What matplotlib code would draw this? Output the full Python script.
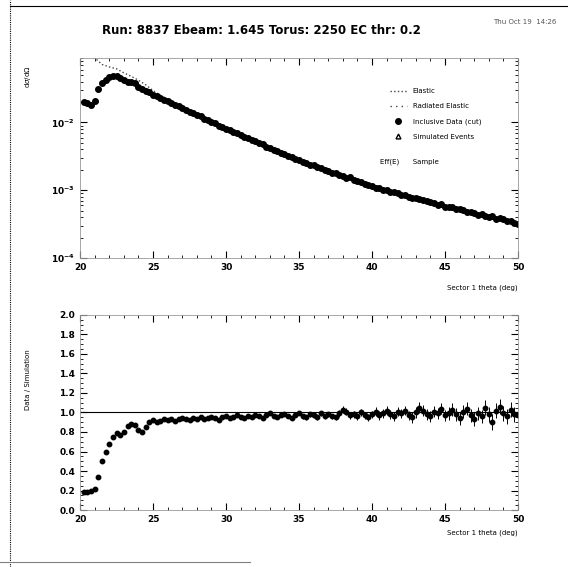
import numpy as np
import matplotlib
matplotlib.use("Agg")
import matplotlib.pyplot as plt
from matplotlib.lines import Line2D
from matplotlib.ticker import MultipleLocator, LogLocator, NullFormatter

# --- data ---
# inclusive data, 0.25 deg bins, units of 1e-3
theta_data = np.arange(20.25, 50.01, 0.25)
data_vals = [
    20.0, 19.2, 18.0, 20.5, 31.0, 38.0, 43.0, 47.0, 49.0, 48.0,
    45.0, 42.0, 40.0, 39.5, 38.0, 33.5, 31.5, 29.5, 27.8, 25.7,
    24.5, 22.9, 21.4, 20.6, 19.3, 18.0, 17.3, 16.1, 15.4, 14.4,
    13.8, 12.8, 12.3, 11.4, 10.9, 10.1, 9.8, 9.0, 8.7, 8.1,
    7.8, 7.2, 6.95, 6.5, 6.1, 5.85, 5.45, 5.25, 4.9, 4.75,
    4.4, 4.25, 3.95, 3.82, 3.55, 3.42, 3.18, 3.08, 2.86, 2.77,
    2.6, 2.55, 2.38, 2.33, 2.18, 2.14, 1.99, 1.95, 1.82, 1.79,
    1.68, 1.64, 1.53, 1.57, 1.40, 1.38, 1.32, 1.23, 1.20, 1.15,
    1.09, 1.08, 1.02, 1.01, 0.95, 0.94, 0.91, 0.86, 0.86, 0.80,
    0.78, 0.78, 0.73, 0.71, 0.70, 0.66, 0.65, 0.61, 0.62, 0.57,
    0.57, 0.56, 0.52, 0.52, 0.51, 0.47, 0.48, 0.455, 0.43, 0.44,
    0.42, 0.40, 0.41, 0.37, 0.39, 0.375, 0.35, 0.355, 0.325, 0.32,
]

# simulation, 0.5 deg bins, units of 1e-3
theta_sim = np.arange(20.5, 50.01, 0.5)
sim_vals = [
    105, 90, 72, 66, 62, 54, 48, 42, 36, 29.5,
    25.2, 22.2, 19.7, 17.4, 15.5, 13.7, 12.2, 10.8, 9.6, 8.55,
    7.65, 6.8, 6.05, 5.4, 4.85, 4.33, 3.9, 3.5, 3.14, 2.83,
    2.58, 2.36, 2.15, 1.96, 1.79, 1.64, 1.50, 1.38, 1.27, 1.16,
    1.08, 1.01, 0.945, 0.88, 0.82, 0.77, 0.72, 0.67, 0.63, 0.59,
    0.555, 0.522, 0.492, 0.463, 0.436, 0.411, 0.388, 0.366, 0.345, 0.325,
]

# data / simulation ratio, 0.25 deg bins
ratio_vals = [
    0.18, 0.18, 0.19, 0.22, 0.34, 0.50, 0.60, 0.68, 0.75, 0.79,
    0.77, 0.80, 0.86, 0.88, 0.87, 0.82, 0.80, 0.85, 0.90, 0.92,
    0.90, 0.91, 0.93, 0.92, 0.93, 0.91, 0.93, 0.94, 0.93, 0.92,
    0.94, 0.93, 0.95, 0.93, 0.94, 0.95, 0.94, 0.92, 0.95, 0.96,
    0.94, 0.95, 0.97, 0.95, 0.94, 0.96, 0.95, 0.97, 0.96, 0.94,
    0.97, 0.99, 0.96, 0.95, 0.97, 0.98, 0.96, 0.94, 0.97, 0.99,
    0.96, 0.95, 0.98, 0.97, 0.95, 0.99, 0.96, 0.98, 0.96, 0.95,
    0.99, 1.03, 1.01, 0.97, 0.98, 0.96, 1.00, 0.97, 0.95, 0.98,
    1.01, 0.97, 0.99, 1.02, 0.98, 0.96, 1.01, 0.99, 1.02, 0.97,
    0.95, 1.00, 1.05, 1.02, 0.98, 0.96, 1.01, 0.99, 1.04, 0.97,
    0.99, 1.03, 0.98, 0.94, 1.01, 1.04, 0.97, 0.93, 0.99, 0.96,
    1.05, 0.98, 0.90, 1.02, 1.06, 0.99, 0.96, 1.03, 0.98, 0.97,
]
# ratio error per 2.5 deg block (20-22.5, 22.5-25, ...)
ratio_err_block = [0.01, 0.012, 0.012, 0.014, 0.016, 0.02, 0.028, 0.035, 0.045, 0.06, 0.07, 0.08]

title = "Run: 8837 Ebeam: 1.645 Torus: 2250 EC thr: 0.2"
xlabel = "Sector 1 theta (deg)"

data = np.array(data_vals) * 1e-3
sim = np.array(sim_vals) * 1e-3
ratio = np.array(ratio_vals)
ratio_err = np.repeat(ratio_err_block, 10)

fig = plt.figure(figsize=(5.68, 5.67), dpi=100)
fig.patch.set_facecolor("white")

# page frame (scanned printout edges)
fig.add_artist(Line2D([0.018, 0.018], [0.0, 1.0], color="black", lw=0.8, ls=(0, (1, 1))))
fig.add_artist(Line2D([0.018, 1.0], [0.989, 0.989], color="black", lw=0.8))
fig.add_artist(Line2D([0.0, 0.44], [0.009, 0.009], color="gray", lw=0.8))

fig.text(0.46, 0.947, title, ha="center", va="center", fontsize=8.5, fontweight="bold")
fig.text(0.98, 0.962, "Thu Oct 19  14:26", ha="right", va="center", fontsize=5, color="#555555")


def style_axes(ax):
    for s in ax.spines.values():
        s.set_color("#999999")
        s.set_linewidth(0.6)
    ax.tick_params(which="both", direction="in", top=True, right=True, colors="black",
                   labelsize=6.5)
    ax.tick_params(which="major", length=5, width=0.8)
    ax.tick_params(which="minor", length=2.5, width=0.6)
    for lab in ax.get_xticklabels() + ax.get_yticklabels():
        lab.set_fontweight("bold")
    ax.xaxis.set_major_locator(MultipleLocator(5))
    ax.xaxis.set_minor_locator(MultipleLocator(1))
    ax.set_xlim(20, 50)


# top panel
ax1 = fig.add_axes([0.141, 0.545, 0.771, 0.353])
ax1.plot(theta_sim, sim, ls=":", color="#444444", lw=1.0)
ax1.plot(theta_data, data, "o", color="black", ms=4, mec="black")
ax1.set_yscale("log")
ax1.set_ylim(1e-4, 0.09)
ax1.yaxis.set_major_locator(LogLocator(base=10, numticks=6))
ax1.yaxis.set_minor_locator(LogLocator(base=10, subs=np.arange(2, 10), numticks=12))
ax1.yaxis.set_minor_formatter(NullFormatter())
style_axes(ax1)
ax1.text(1.0, -0.13, xlabel, transform=ax1.transAxes, ha="right", va="top", fontsize=5)
fig.text(0.05, 0.865, r"d$\sigma$/d$\Omega$", rotation=90, ha="center", va="center", fontsize=5)

handles = [
    Line2D([], [], ls=":", color="#444444", lw=1.0),
    Line2D([], [], ls=(0, (1, 3)), color="#444444", lw=1.0),
    Line2D([], [], ls="none", marker="o", color="black", ms=4),
    Line2D([], [], ls="none", marker="^", mfc="none", mec="black", ms=3.5),
]
labels = ["Elastic", "Radiated Elastic", "Inclusive Data (cut)", "Simulated Events"]
leg = ax1.legend(handles, labels, loc="upper right", bbox_to_anchor=(0.93, 0.88),
                 fontsize=5, frameon=False, handlelength=2.5, labelspacing=1.3)
ax1.text(0.685, 0.48, "Eff(E)      Sample", transform=ax1.transAxes, fontsize=5, va="center")

# bottom panel
ax2 = fig.add_axes([0.141, 0.1005, 0.771, 0.344])
ax2.axhline(1.0, color="black", lw=0.8)
ax2.errorbar(theta_data, ratio, yerr=ratio_err, fmt="o", color="black", ms=3.2,
             elinewidth=0.7, capsize=0)
ax2.set_ylim(0, 2)
ax2.yaxis.set_major_locator(MultipleLocator(0.2))
ax2.yaxis.set_minor_locator(MultipleLocator(0.05))
style_axes(ax2)
ax2.text(1.0, -0.1, xlabel, transform=ax2.transAxes, ha="right", va="top", fontsize=5)
fig.text(0.05, 0.33, "Data / Simulation", rotation=90, ha="center", va="center", fontsize=5)

fig.savefig("out.png", dpi=100, facecolor="white")
